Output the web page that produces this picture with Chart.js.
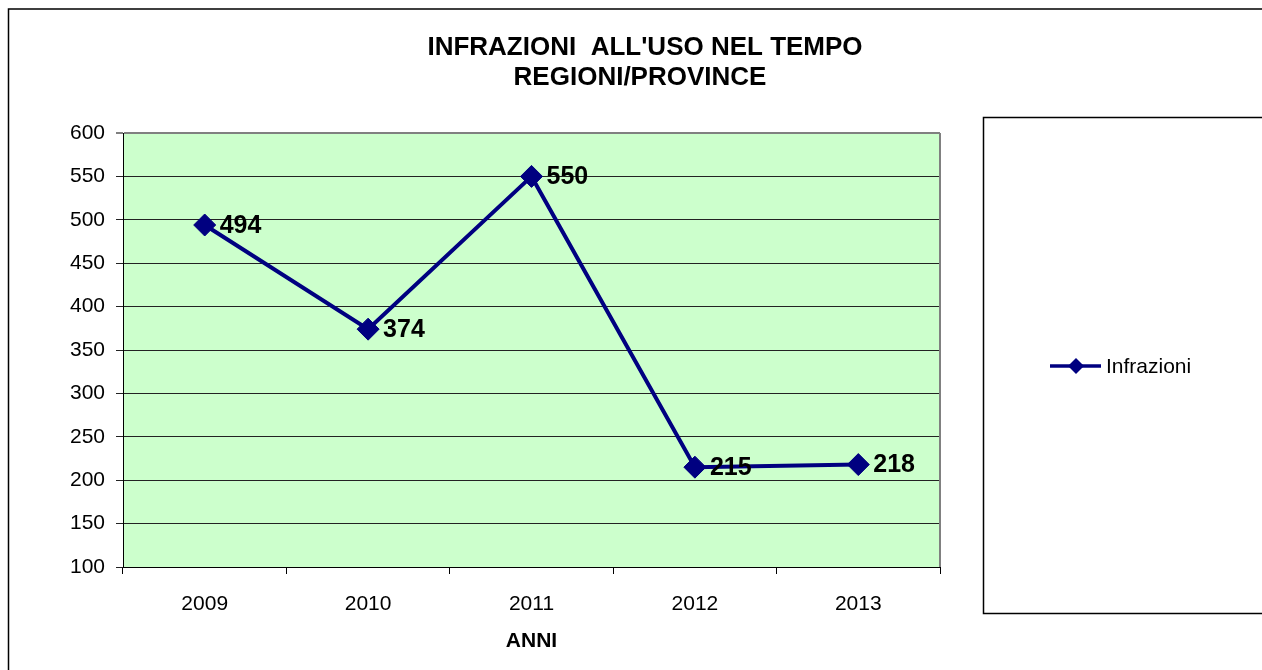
<meta charset="UTF-8">
<title>Infrazioni all'uso nel tempo</title>
<script src="https://cdn.jsdelivr.net/npm/chart.js"></script>
<style>
  body { margin: 0; background: #ffffff; }
  canvas { display: block; }
</style>
<canvas id="infrChart" width="1262" height="670"></canvas>
<script>
// dati
var anni = ['2009', '2010', '2011', '2012', '2013'];
var infrazioni = [494, 374, 550, 215, 218];
var titolo = ['INFRAZIONI  ALL\'USO NEL TEMPO', 'REGIONI/PROVINCE'];
var titoloAsse = 'ANNI';
var nomeSerie = 'Infrazioni';
var yMin = 100, yMax = 600, yStep = 50;

var FONT = 'Arial, "Liberation Sans", sans-serif';
var BLU = '#000080';

Chart.defaults.font.family = FONT;
Chart.defaults.color = '#000000';

// sfondo verde, bordi, titolo, legenda e etichette dei valori
var decorazioni = {
    id: 'decorazioni',
    beforeDraw: function(chart){
        var ctx = chart.ctx, a = chart.chartArea;
        ctx.save();
        ctx.fillStyle = '#ffffff';
        ctx.fillRect(0, 0, chart.width, chart.height);
        ctx.fillStyle = '#CCFFCC';
        ctx.fillRect(a.left, a.top, a.right - a.left, a.bottom - a.top);
        // cornice esterna
        ctx.strokeStyle = '#000000';
        ctx.lineWidth = 1.5;
        ctx.strokeRect(8.5, 9, chart.width + 20, chart.height + 20);
        ctx.restore();
    },
    beforeDatasetsDraw: function(chart){
        var ctx = chart.ctx, a = chart.chartArea;
        ctx.save();
        ctx.strokeStyle = '#808080';
        ctx.lineWidth = 2;
        ctx.beginPath();
        ctx.moveTo(a.right, a.top);
        ctx.lineTo(a.right, a.bottom);
        ctx.stroke();
        ctx.restore();
    },
    afterDraw: function(chart){
        var ctx = chart.ctx;
        ctx.save();
        // titolo
        ctx.fillStyle = '#000000';
        ctx.textAlign = 'center';
        ctx.textBaseline = 'middle';
        ctx.font = 'bold 26px ' + FONT;
        ctx.fillText(titolo[0], 645, 48);
        ctx.fillText(titolo[1], 640, 78);

        // etichette dei valori
        var meta = chart.getDatasetMeta(0);
        ctx.font = 'bold 25px ' + FONT;
        ctx.textAlign = 'left';
        meta.data.forEach(function(p, i){
            ctx.fillText(String(infrazioni[i]), p.x + 15, p.y + 1);
        });

        // riquadro legenda
        ctx.strokeStyle = '#000000';
        ctx.lineWidth = 1.5;
        ctx.strokeRect(983.5, 117.5, 400, 496);
        var ly = 366;
        ctx.strokeStyle = BLU;
        ctx.lineWidth = 3.5;
        ctx.beginPath();
        ctx.moveTo(1050, ly);
        ctx.lineTo(1101, ly);
        ctx.stroke();
        ctx.fillStyle = BLU;
        ctx.beginPath();
        ctx.moveTo(1076, ly - 8);
        ctx.lineTo(1084, ly);
        ctx.lineTo(1076, ly + 8);
        ctx.lineTo(1068, ly);
        ctx.closePath();
        ctx.fill();
        ctx.fillStyle = '#000000';
        ctx.font = '21px ' + FONT;
        ctx.textBaseline = 'middle';
        ctx.fillText(nomeSerie, 1106, ly + 1);
        ctx.restore();
    }
};

var infrChart = new Chart(document.getElementById('infrChart').getContext('2d'), {
    type: 'line',
    data: {
        labels: anni,
        datasets: [{
            label: nomeSerie,
            data: infrazioni,
            borderColor: BLU,
            backgroundColor: BLU,
            borderWidth: 4,
            tension: 0,
            pointStyle: 'rectRot',
            pointRadius: 11,
            pointBorderWidth: 1,
            pointBackgroundColor: BLU,
            pointBorderColor: BLU
        }]
    },
    options: {
        responsive: false,
        animation: false,
        events: [],
        layout: {
            padding: { left: 0, right: 322, top: 133, bottom: 0 }
        },
        plugins: {
            legend: { display: false },
            title: { display: false },
            tooltip: { enabled: false }
        },
        scales: {
            x: {
                offset: true,
                grid: {
                    offset: true,
                    drawOnChartArea: false,
                    tickLength: 7,
                    color: '#000000'
                },
                border: { color: '#000000', width: 1 },
                ticks: {
                    font: { size: 21 },
                    color: '#000000',
                    padding: 18
                },
                title: {
                    display: true,
                    text: titoloAsse,
                    font: { size: 21, weight: 'bold' },
                    color: '#000000',
                    padding: { top: 0, bottom: 16 }
                },
                afterFit: function(scale){ scale.height = 103; }
            },
            y: {
                min: yMin,
                max: yMax,
                ticks: {
                    stepSize: yStep,
                    font: { size: 21 },
                    color: '#000000',
                    padding: 11
                },
                grid: {
                    tickLength: 7,
                    color: function(c){
                        return c.tick && c.tick.value === yMax ? '#808080' : '#222222';
                    },
                    lineWidth: function(c){
                        return c.tick && c.tick.value === yMax ? 2 : 1;
                    }
                },
                border: { color: '#000000', width: 1 },
                afterFit: function(scale){ scale.width = 123; }
            }
        }
    },
    plugins: [decorazioni]
});
</script>
